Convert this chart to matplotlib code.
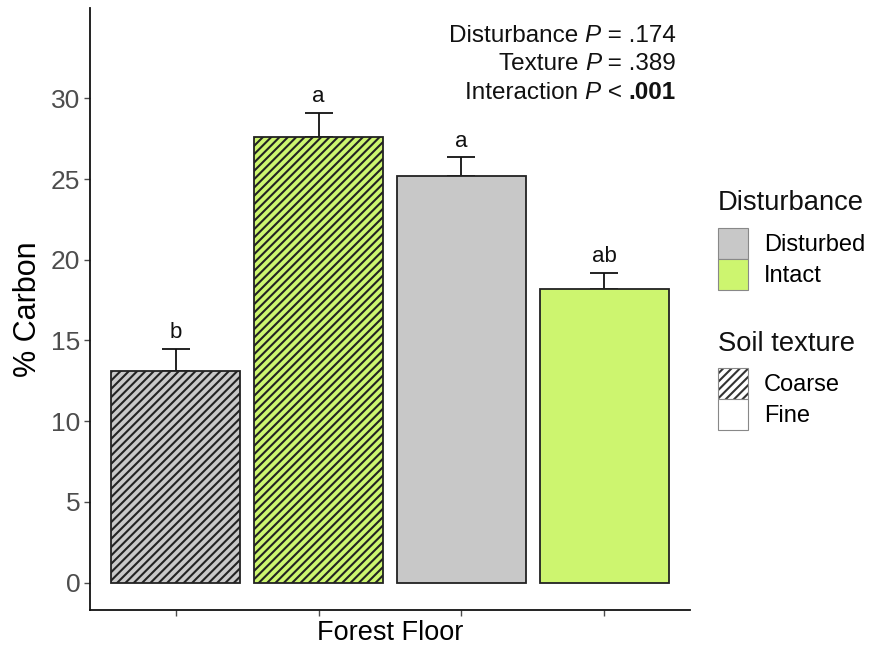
import numpy as np
import matplotlib
matplotlib.use("Agg")
import matplotlib.pyplot as plt
from matplotlib.patches import Patch
from matplotlib.legend_handler import HandlerTuple

plt.rcParams['font.family'] = ['Liberation Sans', 'DejaVu Sans']
plt.rcParams['hatch.linewidth'] = 1.5
plt.rcParams['hatch.color'] = '#333333'

# datos
disturbance = ['Disturbed', 'Intact', 'Disturbed', 'Intact']
texture = ['Coarse', 'Coarse', 'Fine', 'Fine']
carbono = [13.1, 27.6, 25.2, 18.2]
error = [1.4, 1.5, 1.15, 1.0]
letras = ['b', 'a', 'a', 'ab']
# cada linea: (texto, estilo, peso)
p_lineas = [
    [('Disturbance ', 'normal', 'normal'), ('P', 'italic', 'normal'), (' = .174', 'normal', 'normal')],
    [('Texture ', 'normal', 'normal'), ('P', 'italic', 'normal'), (' = .389', 'normal', 'normal')],
    [('Interaction ', 'normal', 'normal'), ('P', 'italic', 'normal'), (' < ', 'normal', 'normal'), ('.001', 'normal', 'bold')],
]

colores = {'Disturbed': '#c8c8c8', 'Intact': '#cdf56f'}
tramas = {'Coarse': '////', 'Fine': ''}

fig = plt.figure(figsize=(8.7, 6.46), dpi=100)
ax = fig.add_axes([90/870, 1-610/646, 600/870, 602/646])

x = np.arange(len(carbono))
for i in range(len(carbono)):
    ax.bar(x[i], carbono[i], width=0.9, color=colores[disturbance[i]],
           hatch=tramas[texture[i]], edgecolor='#222222', linewidth=1.3, zorder=2)
ax.errorbar(x, carbono, yerr=[np.zeros(len(error)), error], fmt='none',
            ecolor='#111111', elinewidth=1.3, capsize=10, capthick=1.3, zorder=1)
for i in range(len(carbono)):
    ax.text(x[i], carbono[i] + error[i] + 0.35, letras[i], ha='center', va='bottom',
            fontsize=16, color='#111111')

# textos de P, armados de derecha a izquierda
for j, partes in enumerate(p_lineas):
    y = 33.85 - j * 1.73
    anterior = None
    for texto, estilo, peso in reversed(partes):
        if anterior is None:
            anterior = ax.text(3.5, y, texto, ha='right', va='center', fontsize=17.5,
                               style=estilo, weight=peso, color='#111111')
        else:
            anterior = ax.annotate(texto, xy=(0, 0), xycoords=anterior, ha='right', va='bottom',
                                   fontsize=17.5, style=estilo, weight=peso, color='#111111')

ax.set_xlim(-0.6, 3.6)
ax.set_ylim(-1.7, 35.6)
ax.set_yticks([0, 5, 10, 15, 20, 25, 30])
ax.set_xticks(x)
ax.set_xticklabels([])
ax.tick_params(axis='both', colors='#4d4d4d', labelsize=19, length=4, width=1)
ax.tick_params(axis='y', pad=3)
ax.set_xlabel('Forest Floor', fontsize=19.5, labelpad=0)
ax.set_ylabel('% Carbon', fontsize=22, labelpad=6)
for s in ['top', 'right']:
    ax.spines[s].set_visible(False)
for s in ['left', 'bottom']:
    ax.spines[s].set_linewidth(1.3)
    ax.spines[s].set_color('#111111')

h1 = [Patch(facecolor=colores[k], edgecolor='#888888', linewidth=0.8) for k in ['Disturbed', 'Intact']]
# trama oscura con borde gris: dos parches encimados
h2 = [(Patch(facecolor='white', edgecolor='#333333', linewidth=0, hatch=tramas[k]),
       Patch(facecolor='none', edgecolor='#888888', linewidth=0.8)) for k in ['Coarse', 'Fine']]

opts = dict(frameon=False, fontsize=17, handlelength=1.27, handleheight=1.64,
            labelspacing=0.0, handletextpad=0.68, borderpad=0, borderaxespad=0)
fig.text(718/870, 1-203/646, 'Disturbance', fontsize=19.7, ha='left', va='center', color='#111111')
fig.legend(h1, ['Disturbed', 'Intact'], loc='upper left',
           bbox_to_anchor=(718/870, 1-228/646), **opts)
fig.text(718/870, 1-344/646, 'Soil texture', fontsize=19.7, ha='left', va='center', color='#111111')
fig.legend(h2, ['Coarse', 'Fine'], loc='upper left',
           bbox_to_anchor=(718/870, 1-368/646),
           handler_map={tuple: HandlerTuple(ndivide=1, pad=0)}, **opts)

fig.savefig('out.png', dpi=100)
